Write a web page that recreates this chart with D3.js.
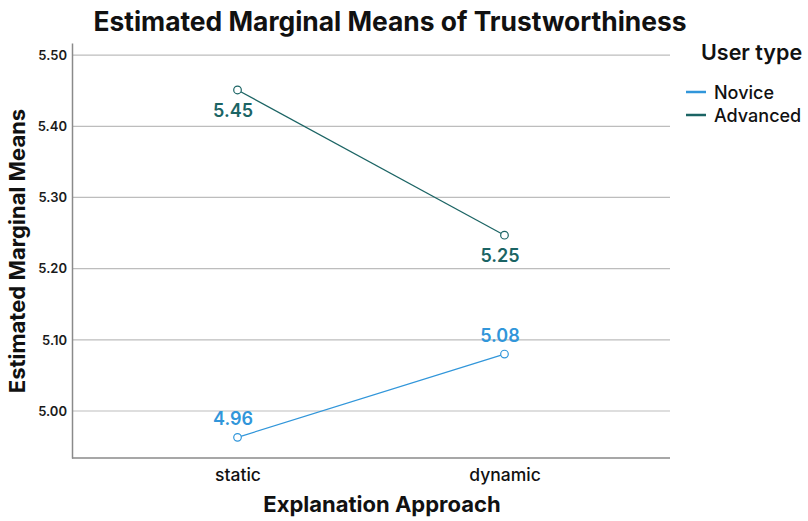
<!DOCTYPE html>
<html><head><meta charset="utf-8">
<script src="https://cdn.jsdelivr.net/npm/d3@7"></script>
<style>body{margin:0;background:#fff;} svg{display:block;font-family:Inter,"Noto Sans",sans-serif;}</style>
</head><body>
<svg id="c" width="808" height="521"></svg>
<script>
const categories = ["static", "dynamic"];
const seriesNames = ["Novice", "Advanced"];
const noviceValues = [4.963, 5.080];
const advancedValues = [5.451, 5.247];
const noviceLabels = ["4.96", "5.08"];
const advancedLabels = ["5.45", "5.25"];
const yTicks = [5.00, 5.10, 5.20, 5.30, 5.40, 5.50];
const colors = {Novice: "#3196da", Advanced: "#1b6464"};

const svg = d3.select("#c");
const m = {l: 72, r: 670, t: 43, b: 458};
const x = d3.scalePoint().domain(categories).range([m.l, m.r]).padding(0.62);
const y = d3.scaleLinear().domain([4.934, 5.517]).range([m.b, m.t]);

// gridlines
svg.append("g").selectAll("line").data(yTicks).join("line")
  .attr("x1", m.l).attr("x2", m.r).attr("y1", d => y(d)).attr("y2", d => y(d))
  .attr("stroke", "#bdbdbd").attr("stroke-width", 1.2);

// axes
const yAxis = svg.append("g").attr("transform", `translate(${m.l},0)`)
  .call(d3.axisLeft(y).tickValues(yTicks).tickFormat(d3.format(".2f")).tickSize(0).tickPadding(5));
yAxis.select(".domain").attr("stroke", "#8a8a8a").attr("stroke-width", 1.5);
yAxis.selectAll("text").attr("font-size", 13).attr("font-weight", 600).attr("fill", "#1a1a1a").attr("font-family", "Inter");

const xAxis = svg.append("g").attr("transform", `translate(0,${m.b})`)
  .call(d3.axisBottom(x).tickSize(0).tickPadding(11));
xAxis.select(".domain").attr("stroke", "#8a8a8a").attr("stroke-width", 1.5).attr("d", `M${m.l},0H${m.r}`);
xAxis.selectAll("text").attr("font-size", 17.5).attr("font-weight", 500).attr("fill", "#111").attr("font-family", "Inter");

// series
const series = [
  {name: "Novice", values: noviceValues, labels: noviceLabels, dy: -12},
  {name: "Advanced", values: advancedValues, labels: advancedLabels, dy: 27}
];
const line = d3.line().x((d, i) => x(categories[i])).y(d => y(d));
series.forEach(s => {
  const g = svg.append("g");
  g.append("path").datum(s.values).attr("d", line).attr("fill", "none")
    .attr("stroke", colors[s.name]).attr("stroke-width", 1.2);
  g.selectAll("circle").data(s.values).join("circle")
    .attr("cx", (d, i) => x(categories[i])).attr("cy", d => y(d)).attr("r", 3.8)
    .attr("fill", "#fff").attr("stroke", colors[s.name]).attr("stroke-width", 1.2);
  g.selectAll("text").data(s.values).join("text")
    .attr("x", (d, i) => x(categories[i]) - 4.5).attr("y", d => y(d) + s.dy)
    .attr("text-anchor", "middle").attr("font-size", 18).attr("font-weight", 600)
    .attr("fill", colors[s.name]).text((d, i) => s.labels[i]);
});

// title
svg.append("text").attr("x", 390).attr("y", 31).attr("text-anchor", "middle")
  .attr("font-size", 26.4).attr("font-weight", 700).attr("fill", "#111")
  .text("Estimated Marginal Means of Trustworthiness");
// axis titles
svg.append("text").attr("x", 382).attr("y", 512).attr("text-anchor", "middle")
  .attr("font-size", 22).attr("font-weight", 700).attr("fill", "#111").text("Explanation Approach");
svg.append("text").attr("transform", "translate(25,251) rotate(-90)").attr("text-anchor", "middle")
  .attr("font-size", 22).attr("font-weight", 700).attr("fill", "#111").text("Estimated Marginal Means");

// legend
svg.append("text").attr("x", 701).attr("y", 60).attr("font-size", 21.5).attr("font-weight", 600)
  .attr("fill", "#111").text("User type");
const leg = svg.append("g").selectAll("g").data(seriesNames).join("g")
  .attr("transform", (d, i) => `translate(686,${92 + i * 23})`);
leg.append("line").attr("x1", 0).attr("x2", 20).attr("y1", 0).attr("y2", 0)
  .attr("stroke", d => colors[d]).attr("stroke-width", 2.5);
leg.append("text").attr("x", 28).attr("y", 6.5).attr("font-size", 18).attr("font-weight", 500)
  .attr("fill", "#111").text(d => d);
</script>
</body></html>
